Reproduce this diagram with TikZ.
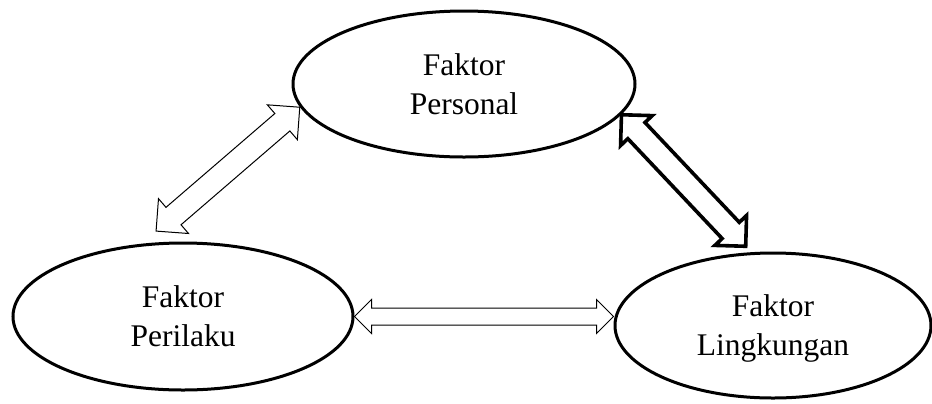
\documentclass[tikz,border=0pt]{standalone}
\usepackage{fontspec}
\setmainfont{Liberation Serif}
\usetikzlibrary{shapes.geometric,shapes.arrows,calc}
\begin{document}
\begin{tikzpicture}[x=0.5pt, y=-0.5pt,
  faktor/.style={draw, ellipse, line width=1.5pt, inner sep=0pt, align=center, text depth=0pt, font=\fontsize{15.75}{19.5}\selectfont},
  dblarrow/.style={double arrow, draw, fill=white, inner sep=0pt, minimum width=0pt, text depth=0pt, double arrow head indent=0pt, double arrow tip angle=90}]
\useasboundingbox (0,0) rectangle (932,403);
\node[faktor, minimum width=171pt, minimum height=73pt] (personal) at (464,84) {Faktor\\Personal};
\node[faktor, minimum width=170pt, minimum height=73.5pt] (perilaku) at (183,316.5) {Faktor\\Perilaku};
\node[faktor, minimum width=158pt, minimum height=72.5pt] (lingkungan) at (773,325.5) {Faktor\\Lingkungan};
\coordinate (pb) at ($(perilaku.108)+(-3,-11)$);
\coordinate (lt) at ($(lingkungan.109)+(-2,-6)$);
\coordinate (lw) at (perilaku.east -| lingkungan.west);
\foreach \a/\b/\w/\e/\lw in {pb/personal.188/11pt/5.75pt/0.5pt, personal.349/lt/10pt/5pt/1.8pt, perilaku.east/lw/8pt/4.25pt/0.5pt}
  \path let \p1=(\a), \p2=(\b), \n1={atan2(\y2-\y1,\x2-\x1)}, \n2={veclen(\x2-\x1,\y2-\y1)} in
    node[dblarrow, line width=\lw, text height=\w, double arrow head extend=\e, minimum height=\n2, rotate=\n1] at ($(\p1)!0.5!(\p2)$) {};
\end{tikzpicture}
\end{document}
